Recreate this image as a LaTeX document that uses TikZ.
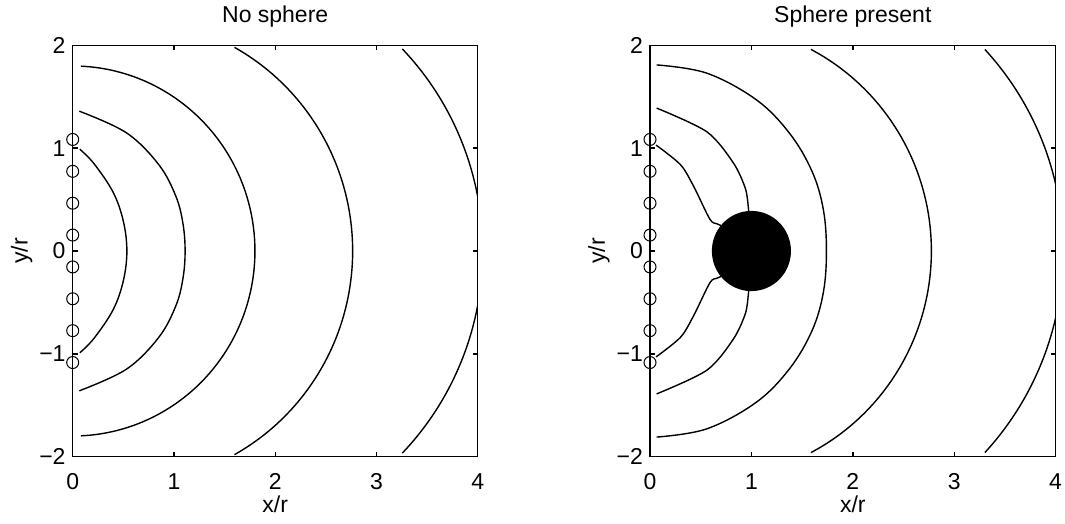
\documentclass[tikz,border=0pt]{standalone}
\usepackage{fontspec}
\setmainfont{Liberation Sans}
\newcommand\mn{\char"2212\relax}
\newcommand\myaxes[2]{%
  \draw[axbox] (0,-2) rectangle (4,2);
  \foreach \t in {1,2,3} {
    \draw[axbox] (\t,-2) -- ++(0,5pt);
    \draw[axbox] (\t,2) -- ++(0,-5pt);
  }
  \foreach \t in {-1,0,1} {
    \draw[axbox] (0,\t) -- ++(5pt,0);
    \draw[axbox] (4,\t) -- ++(-5pt,0);
  }
  \foreach \t in {0,1,2,3,4}
    \node[lab,anchor=north] (#1x\t) at ([yshift=-17pt]\t,-2) {\t};
  \node[lab,anchor=east] (#1ym2) at ([xshift=-7pt]0,-2) {\mn2};
  \node[lab,anchor=east] (#1ym1) at ([xshift=-7pt]0,-1) {\mn1};
  \node[lab,anchor=east] (#1y0) at ([xshift=-7pt]0,0) {0};
  \node[lab,anchor=east] (#1y1) at ([xshift=-7pt]0,1) {1};
  \node[lab,anchor=east] (#1y2) at ([xshift=-7pt]0,2) {2};
  \node[lab] (#1xl) at ([yshift=-48pt]2,-2) {x/r};
  \node[lab,rotate=90] (#1yl) at ([xshift=-51pt]0,0) {y/r};
  \node[lab] (#1title) at ([yshift=29pt]2,2) {#2};
  \foreach \yy in {-1.085,-0.775,-0.465,-0.155,0.155,0.465,0.775,1.085}
    \draw[rcv] (0,\yy) circle[radius=6pt];
}
\begin{document}
\begin{tikzpicture}[x=1pt,y=1pt,
  contour/.style={line width=1.4pt, line join=round},
  axbox/.style={line width=1.4pt},
  rcv/.style={line width=1pt},
  lab/.style={inner sep=0pt, font=\fontsize{23}{27}\selectfont}]
\useasboundingbox (0,0) rectangle (1065,523);
% ---------- left: no sphere ----------
\begin{scope}[shift={(72.7pt,272pt)}, x=101.25pt, y=102.8pt]
  \draw[contour] plot[smooth, tension=0.6] coordinates {(0.07,0.99) (0.21,0.85) (0.40,0.57) (0.50,0.29) (0.535,0) (0.50,-0.29) (0.40,-0.57) (0.21,-0.85) (0.07,-0.99)};
  \draw[contour] plot[smooth, tension=0.6] coordinates {(0.065,1.36) (0.53,1.15) (0.85,0.84) (1.02,0.53) (1.09,0.26) (1.11,0) (1.09,-0.26) (1.02,-0.53) (0.85,-0.84) (0.53,-1.15) (0.065,-1.36)};
  \draw[contour] plot[domain=87.4:-87.4, samples=61, smooth] ({1.80*cos(\x)},{1.80*sin(\x)});
  \draw[contour] plot[domain=61:-61, samples=61, smooth] ({0.5+2.265*cos(\x)},{2.265*sin(\x)});
  \begin{scope}
    \clip (0,-2) rectangle (4,2);
    \draw[contour] plot[domain=44:-44, samples=61, smooth] ({1.22+2.83*cos(\x)},{2.83*sin(\x)});
  \end{scope}
  \myaxes{L}{No sphere}
\end{scope}
% ---------- right: sphere present ----------
\begin{scope}[shift={(650pt,272pt)}, x=101.4pt, y=102.8pt]
  \draw[contour] plot[smooth, tension=0.5] coordinates {(0.06,1.03) (0.30,0.84) (0.43,0.63) (0.59,0.31) (0.66,0.265) (0.72,0.24)};
  \draw[contour] plot[smooth, tension=0.5] coordinates {(0.06,-1.03) (0.30,-0.84) (0.43,-0.63) (0.59,-0.31) (0.66,-0.265) (0.72,-0.24)};
  \draw[contour] plot[smooth, tension=0.5] coordinates {(0.066,1.39) (0.56,1.16) (0.82,0.86) (0.94,0.61) (0.97,0.42) (0.975,0.33)};
  \draw[contour] plot[smooth, tension=0.5] coordinates {(0.066,-1.39) (0.56,-1.16) (0.82,-0.86) (0.94,-0.61) (0.97,-0.42) (0.975,-0.33)};
  \draw[contour] plot[smooth, tension=0.6] coordinates {(0.066,1.81) (0.56,1.73) (1.05,1.47) (1.38,1.14) (1.60,0.77) (1.71,0.40) (1.74,0) (1.71,-0.40) (1.60,-0.77) (1.38,-1.14) (1.05,-1.47) (0.56,-1.73) (0.066,-1.81)};
  \draw[contour] plot[domain=62.4:-62.4, samples=61, smooth] ({0.562+2.213*cos(\x)},{2.213*sin(\x)});
  \begin{scope}
    \clip (0,-2) rectangle (4,2);
    \draw[contour] plot[domain=43:-43, samples=61, smooth] ({1.2+2.875*cos(\x)},{2.875*sin(\x)});
  \end{scope}
  \fill (1,0) circle[radius=0.39];
  \myaxes{R}{Sphere present}
\end{scope}
\end{tikzpicture}
\end{document}
